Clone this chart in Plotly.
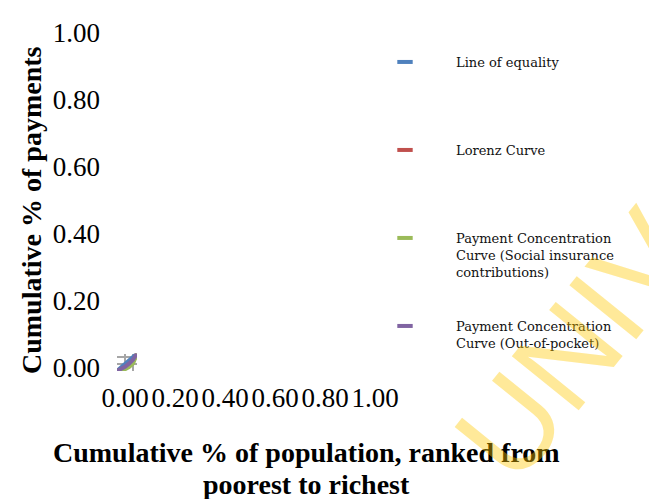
import plotly.graph_objects as go

W, H = 649, 499

# ---- data ----
pop_share = [0.0, 0.2, 0.4, 0.6, 0.8, 1.0]
equality = [0.0, 0.2, 0.4, 0.6, 0.8, 1.0]
lorenz = [0.0, 0.06, 0.16, 0.31, 0.52, 1.0]
social_ins = [0.0, 0.03, 0.10, 0.22, 0.42, 1.0]
out_of_pocket = [0.0, 0.10, 0.24, 0.42, 0.64, 1.0]

series_names = [
    "Line of equality",
    "Lorenz Curve",
    "Payment Concentration<br>Curve (Social insurance<br>contributions)",
    "Payment Concentration<br>Curve (Out-of-pocket)",
]
series_colors = ["#4F81BD", "#C0504D", "#9BBB59", "#8064A2"]
tick_vals = [0.0, 0.2, 0.4, 0.6, 0.8, 1.0]
tick_text = ["0.00", "0.20", "0.40", "0.60", "0.80", "1.00"]

FONT = "Liberation Serif"


def px_x(p):
    return p / W


def px_y(p):
    return 1 - p / H


fig = go.Figure()

# invisible trace so that the label axes are drawn
fig.add_trace(go.Scatter(x=[None], y=[None], mode="markers", showlegend=False,
                         hoverinfo="skip", xaxis="x", yaxis="y"))

# tiny plotted curves on inset axes
for vals, name, col in zip([equality, lorenz, social_ins, out_of_pocket], series_names, series_colors):
    fig.add_trace(go.Scatter(x=pop_share, y=vals, mode="lines", name=name,
                             line=dict(color=col, width=4), showlegend=False,
                             xaxis="x2", yaxis="y2"))

# legend entries (one legend each, to reproduce spacing)
legend_ids = ["legend", "legend2", "legend3", "legend4"]
for name, col, lid in zip(series_names, series_colors, legend_ids):
    fig.add_trace(go.Scatter(x=[None], y=[None], mode="markers", name=name,
                             marker=dict(symbol="line-ew", size=11,
                                         line=dict(color=col, width=4)),
                             legend=lid, xaxis="x2", yaxis="y2"))

legend_tops = [47, 135, 223, 311]
leg_common = dict(x=px_x(354), xanchor="left", yanchor="top", valign="top",
                  itemwidth=92, bgcolor="rgba(0,0,0,0)",
                  font=dict(family="DejaVu Serif", size=13, color="#111"))
layout_legends = {}
for lid, top in zip(legend_ids, legend_tops):
    layout_legends[lid] = dict(y=px_y(top), **leg_common)

fig.update_layout(
    width=W, height=H,
    margin=dict(l=0, r=0, t=0, b=0, autoexpand=False),
    paper_bgcolor="white", plot_bgcolor="rgba(0,0,0,0)",
    showlegend=True,
    font=dict(family=FONT, color="black"),
    # main (label-only) axes
    xaxis=dict(domain=[px_x(125), px_x(375)], range=[0, 1], tickvals=tick_vals, ticktext=tick_text,
               showgrid=False, zeroline=False, showline=False, ticks="", tickangle=0,
               ticklabelstandoff=11, tickfont=dict(family=FONT, size=27, color="black"),
               anchor="y", fixedrange=True, automargin=False),
    yaxis=dict(domain=[px_y(368), px_y(33)], range=[0, 1], tickvals=tick_vals, ticktext=tick_text,
               showgrid=False, zeroline=False, showline=False, ticks="",
               ticklabelstandoff=24, tickfont=dict(family=FONT, size=27, color="black"),
               anchor="x", fixedrange=True, automargin=False),
    # inset data axes
    xaxis2=dict(domain=[px_x(117), px_x(137)], range=[0, 1], tickvals=[0.4, 0.8],
                showticklabels=False, showgrid=True, gridcolor="#A6A6A6", gridwidth=2,
                zeroline=False, showline=False, anchor="y2", automargin=False),
    yaxis2=dict(domain=[px_y(371), px_y(353.5)], range=[0, 1], tickvals=[0.4, 0.8],
                showticklabels=False, showgrid=True, gridcolor="#A6A6A6", gridwidth=2,
                zeroline=False, showline=False, anchor="x2", automargin=False),
    **layout_legends,
)

# axis titles
fig.add_annotation(text="<b>Cumulative % of payments</b>", xref="paper", yref="paper",
                   x=px_x(31), y=px_y(210), xanchor="center", yanchor="middle",
                   textangle=-90, showarrow=False,
                   font=dict(family=FONT, size=28, color="black"))
fig.add_annotation(text="<b>Cumulative % of population, ranked from</b>",
                   xref="paper", yref="paper", x=px_x(306), y=px_y(452),
                   xanchor="center", yanchor="middle", showarrow=False,
                   font=dict(family=FONT, size=28, color="black"))
fig.add_annotation(text="<b>poorest to richest</b>",
                   xref="paper", yref="paper", x=px_x(306), y=px_y(484),
                   xanchor="center", yanchor="middle", showarrow=False,
                   font=dict(family=FONT, size=28, color="black"))

# watermark
fig.add_annotation(text="UNIV", xref="paper", yref="paper", x=px_x(575), y=px_y(345),
                   xanchor="center", yanchor="middle",
                   textangle=-51, showarrow=False,
                   font=dict(family="Liberation Sans", size=125, color="rgba(255,200,0,0.4)"))

fig.write_html("out.html", post_script="document.body.style.margin='0';",
               config={"displayModeBar": False})
